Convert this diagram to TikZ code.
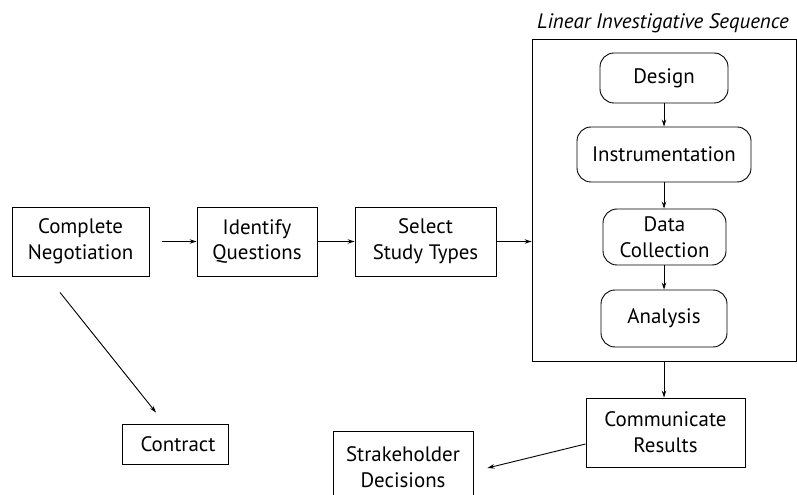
\documentclass[tikz,border=0pt]{standalone}
\usepackage{fontspec}
\setmainfont{PT Sans}
\usetikzlibrary{arrows.meta}
\begin{document}
\begin{tikzpicture}[x=1bp,y=-1bp,
  every node/.style={font=\fontsize{21}{26}\selectfont, align=center, inner sep=0pt},
  box/.style={draw, line width=0.9bp, minimum width=#1},
  rbox/.style={draw, line width=0.9bp, rounded corners=14bp, minimum width=#1},
  arr/.style={line width=0.9bp, -{Stealth[length=7bp,width=4.5bp]}}]
\clip (0,0) rectangle (797,495);
\node[box=137bp, minimum height=69bp] (cn) at (80.5,241.5) {Complete\\Negotiation};
\node[box=120bp, minimum height=69bp] (iq) at (257,241.5) {Identify\\Questions};
\node[box=141bp, minimum height=69bp] (sst) at (425.5,241.5) {Select\\Study Types};
\node[draw, line width=0.9bp, minimum width=264bp, minimum height=322bp] (big) at (664,200) {};
\node[font=\fontsize{21}{26}\selectfont\itshape] (title) at (663,23) {Linear Investigative Sequence};
\node[rbox=128bp, minimum height=50bp] (des) at (664,78) {Design};
\node[rbox=174bp, minimum height=55bp] (ins) at (664,154.5) {Instrumentation};
\node[rbox=123bp, minimum height=56bp] (dc) at (664.5,237) {Data\\Collection};
\node[rbox=126bp, minimum height=57bp] (an) at (664,318.5) {Analysis};
\node[box=159bp, minimum height=69bp] (cr) at (665.5,432.5) {Communicate\\Results};
\node[box=106bp, minimum height=40bp] (con) at (175,444) {\hspace{6bp}Contract};
\node[box=140bp, minimum height=72bp] (sd) at (403,467) {Strakeholder\\Decisions};
\draw[arr, shorten <=13bp] (cn.east) -- (iq.west);
\draw[arr] (iq.east) -- (sst.west);
\draw[arr] (sst.east) -- (big.west |- sst.east);
\draw[arr] (des.south) -- (ins.north);
\draw[arr] (ins.south) -- (dc.north -| ins.south);
\draw[arr] (dc.south -| ins.south) -- (an.north -| ins.south);
\draw[arr] (big.south) -- (cr.north -| big.south);
\draw[arr] ([xshift=-20.5bp,yshift=-16bp]cn.south) -- ([xshift=-19bp,yshift=11bp]con.north);
\draw[arr] ([yshift=-11.5bp]cr.west) -- ([xshift=14bp,yshift=-1bp]sd.east);
\end{tikzpicture}
\end{document}
